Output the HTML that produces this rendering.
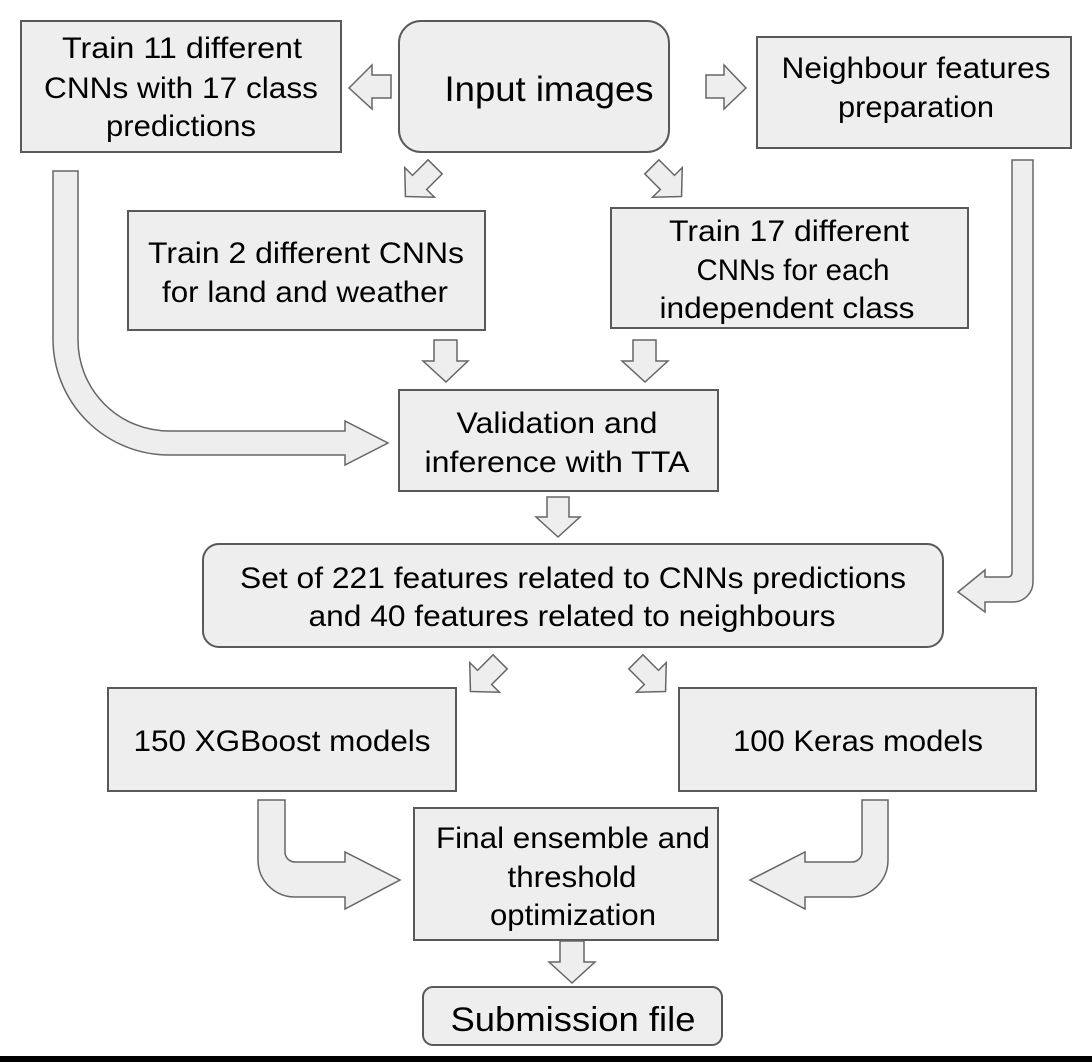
<!DOCTYPE html>
<html><head><meta charset="utf-8"><style>
html,body{margin:0;padding:0;background:#fff;}
svg{display:block;}
text{font-family:"Liberation Sans",Arial,sans-serif;fill:#000;text-anchor:middle;}
</style></head><body>
<svg width="1092" height="1062" viewBox="0 0 1092 1062" xmlns="http://www.w3.org/2000/svg">
<g fill="#eeeeee" stroke="#595959" stroke-width="2">
<rect x="21" y="21" width="320" height="131"/>
<rect x="399" y="21" width="270" height="131" rx="22"/>
<rect x="757" y="37" width="314" height="111"/>
<rect x="128" y="211" width="357" height="119"/>
<rect x="611" y="208" width="357" height="120"/>
<rect x="399" y="390" width="319" height="101"/>
<rect x="203" y="544" width="740" height="103" rx="16"/>
<rect x="108" y="688" width="348" height="103"/>
<rect x="679" y="688" width="357" height="103"/>
<rect x="414" y="808" width="304" height="132"/>
<rect x="423" y="987" width="299" height="58" rx="10"/>
</g>
<g fill="#eeeeee" stroke="#666" stroke-width="1.5" stroke-linejoin="miter">
<polygon points="349,88 372,65 372,75 391,75 391,98 372,98 372,109"/>
<polygon points="746,88 724,65 724,75 706,75 706,98 724,98 724,109"/>
<g transform="translate(421,181) rotate(135)"><polygon points="22,0 2,-21 2,-10 -20,-10 -20,10 2,10 2,21"/></g>
<g transform="translate(666,181) rotate(45)"><polygon points="22,0 2,-21 2,-10 -20,-10 -20,10 2,10 2,21"/></g>
<polygon points="446,382 423,361 434,361 434,340 457,340 457,361 468,361"/>
<polygon points="645,382 622,361 633,361 633,340 656,340 656,361 668,361"/>
<polygon points="558,537 536,517 547,517 547,497 569,497 569,517 580,517"/>
<polygon points="572,983 549,962 560,962 560,941 584,941 584,962 595,962"/>
<g transform="translate(486,676) rotate(135)"><polygon points="22,0 2,-21 2,-10 -20,-10 -20,10 2,10 2,21"/></g>
<g transform="translate(650,676) rotate(45)"><polygon points="22,0 2,-21 2,-10 -20,-10 -20,10 2,10 2,21"/></g>
<path d="M53,171 L78,171 L78,340 A91,91 0 0 0 169,431 L345,431 L345,421 L388,443 L345,465 L345,455 L169,455 A116,116 0 0 1 53,339 Z"/>
<path d="M1012,160 L1033,160 L1033,582 A20,20 0 0 1 1013,602 L985,602 L985,612 L958,592 L985,570 L985,577 L1008,577 A4,4 0 0 0 1012,573 Z"/>
<path d="M258,800 L285,800 L285,852 A10,10 0 0 0 295,862 L345,862 L345,852 L400,880 L345,909 L345,897 L295,897 A37,37 0 0 1 258,860 Z"/>
<path d="M888,800 L862,800 L862,852 A10,10 0 0 1 852,862 L805,862 L805,852 L750,880 L805,909 L805,897 L852,897 A37,37 0 0 0 888,860 Z"/>
</g>
<g font-size="30" font-family="Liberation Sans, Arial, sans-serif" lengthAdjust="spacingAndGlyphs">
<text x="182" y="58" textLength="240" lengthAdjust="spacingAndGlyphs">Train 11 different</text>
<text x="181" y="98" textLength="274" lengthAdjust="spacingAndGlyphs">CNNs with 17 class</text>
<text x="181" y="136" textLength="150" lengthAdjust="spacingAndGlyphs">predictions</text>
<text x="549" y="101" font-size="35" textLength="209" lengthAdjust="spacingAndGlyphs">Input images</text>
<text x="916" y="78" textLength="269" lengthAdjust="spacingAndGlyphs">Neighbour features</text>
<text x="916" y="117" textLength="156" lengthAdjust="spacingAndGlyphs">preparation</text>
<text x="306" y="263" textLength="316" lengthAdjust="spacingAndGlyphs">Train 2 different CNNs</text>
<text x="305" y="302" textLength="286" lengthAdjust="spacingAndGlyphs">for land and weather</text>
<text x="789" y="241" textLength="240" lengthAdjust="spacingAndGlyphs">Train 17 different</text>
<text x="793" y="280" textLength="193" lengthAdjust="spacingAndGlyphs">CNNs for each</text>
<text x="787" y="318" textLength="255" lengthAdjust="spacingAndGlyphs">independent class</text>
<text x="557" y="433" textLength="201" lengthAdjust="spacingAndGlyphs">Validation and</text>
<text x="557" y="472" textLength="265" lengthAdjust="spacingAndGlyphs">inference with TTA</text>
<text x="573" y="588" textLength="666" lengthAdjust="spacingAndGlyphs">Set of 221 features related to CNNs predictions</text>
<text x="572" y="626" textLength="527" lengthAdjust="spacingAndGlyphs">and 40 features related to neighbours</text>
<text x="282" y="751" textLength="297" lengthAdjust="spacingAndGlyphs">150 XGBoost models</text>
<text x="858" y="751" textLength="250" lengthAdjust="spacingAndGlyphs">100 Keras models</text>
<text x="573" y="848" textLength="274" lengthAdjust="spacingAndGlyphs">Final ensemble and</text>
<text x="572" y="887" textLength="129" lengthAdjust="spacingAndGlyphs">threshold</text>
<text x="573" y="925" textLength="166" lengthAdjust="spacingAndGlyphs">optimization</text>
<text x="573" y="1031" font-size="34" textLength="245" lengthAdjust="spacingAndGlyphs">Submission file</text>
</g>
<rect x="0" y="1056" width="1092" height="6" fill="#000"/>
</svg>
</body></html>
